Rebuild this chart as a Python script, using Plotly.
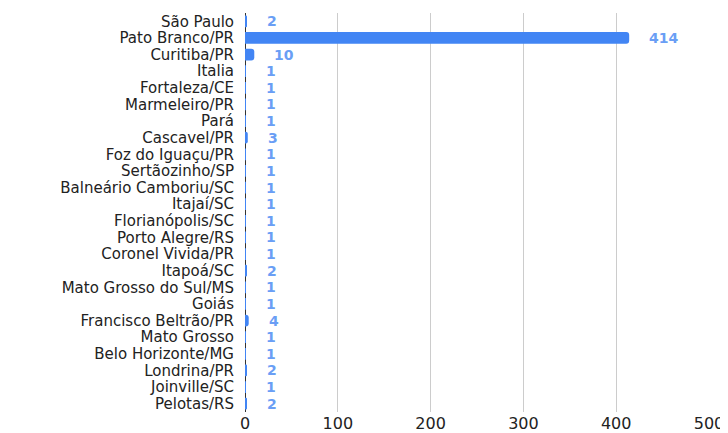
import plotly.graph_objects as go

categories = [
    "São Paulo", "Pato Branco/PR", "Curitiba/PR", "Italia", "Fortaleza/CE",
    "Marmeleiro/PR", "Pará", "Cascavel/PR", "Foz do Iguaçu/PR", "Sertãozinho/SP",
    "Balneário Camboriu/SC", "Itajaí/SC", "Florianópolis/SC", "Porto Alegre/RS",
    "Coronel Vivida/PR", "Itapoá/SC", "Mato Grosso do Sul/MS", "Goiás",
    "Francisco Beltrão/PR", "Mato Grosso", "Belo Horizonte/MG", "Londrina/PR",
    "Joinville/SC", "Pelotas/RS",
]
values = [2, 414, 10, 1, 1, 1, 1, 3, 1, 1, 1, 1, 1, 1, 1, 2, 1, 1, 4, 1, 1, 2, 1, 2]
x_ticks = [0, 100, 200, 300, 400, 500]

BAR = "#4285F4"
LABEL = "#6a9ef5"
FONT = "DejaVu Sans, Verdana, sans-serif"

fig = go.Figure()
fig.add_trace(go.Bar(
    x=values, y=categories, orientation="h",
    marker=dict(color=BAR, line=dict(width=0), cornerradius=3),
    width=0.7, hoverinfo="x+y",
))

for c, v in zip(categories, values):
    fig.add_annotation(
        x=v, y=c, text=str(v), showarrow=False, xanchor="left", yanchor="middle",
        xshift=20, yshift=0, borderpad=0, borderwidth=0,
        font=dict(family=FONT, size=14, color=LABEL, weight="bold"),
    )

# page has an 8px body margin, so the figure is sized to fit the window
fig.update_layout(
    width=720, height=425,
    margin=dict(l=237, r=19, t=5, b=21),
    paper_bgcolor="white", plot_bgcolor="white",
    showlegend=False,
    font=dict(family=FONT, size=15, color="#222"),
    xaxis=dict(
        range=[0, 500], tickmode="array", tickvals=x_ticks,
        ticktext=[str(t) for t in x_ticks],
        showgrid=True, gridcolor="#cccccc", gridwidth=1,
        zeroline=True, zerolinecolor="#333333", zerolinewidth=1,
        showline=False, ticks="", tickfont=dict(size=16, color="#222"),
        automargin=False, ticklabelstandoff=0,
        fixedrange=True,
    ),
    yaxis=dict(
        autorange="reversed", tickmode="array", tickvals=categories,
        showgrid=False, zeroline=False, showline=False,
        ticks="", ticklabelstandoff=10, tickfont=dict(size=15, color="#222"),
        automargin=False,
        fixedrange=True,
    ),
)

fig.write_html("out.html")
